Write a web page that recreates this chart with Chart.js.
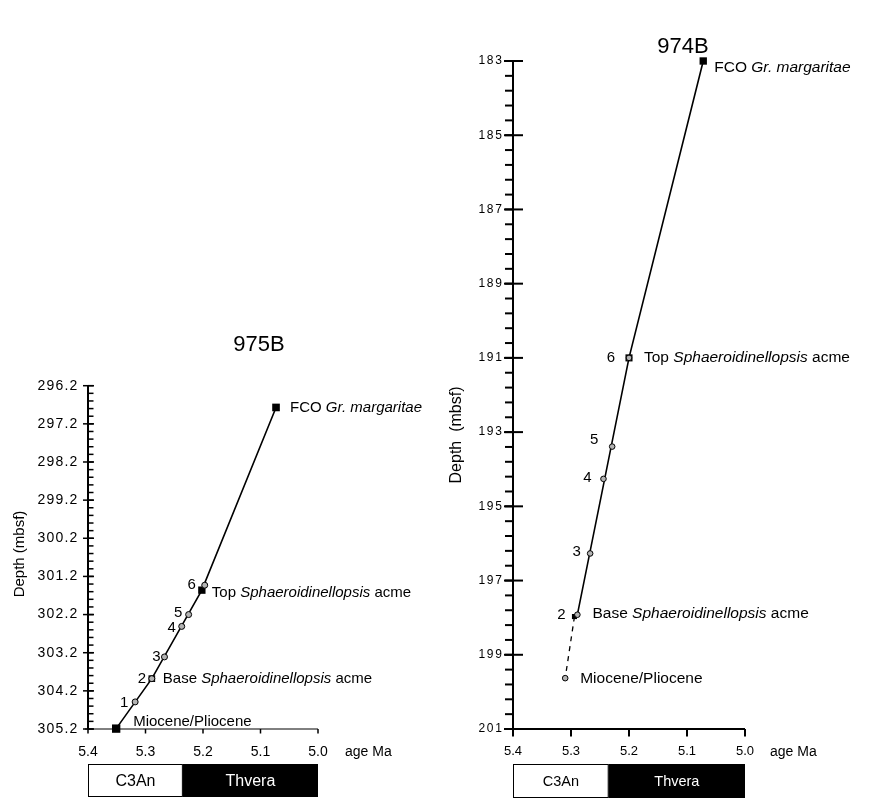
<!DOCTYPE html>
<html lang="en">
<head>
  <meta charset="UTF-8" />
  <title>975B / 974B age-depth plots</title>
  <script src="https://cdn.jsdelivr.net/npm/chart.js"></script>
  <style>
    body { margin: 0; background: #fff; }
    .wrap { position: relative; width: 873px; height: 799px; }
    .wrap canvas { position: absolute; left: 0; top: 0; }
  </style>
</head>
<body>
  <div class="wrap">
    <canvas id="chart975" width="873" height="799"></canvas>
    <canvas id="chart974" width="873" height="799"></canvas>
  </div>
  <script>
    // ---- shared axis data ----
    const ageTicks = [5.4, 5.3, 5.2, 5.1, 5.0];
    const ageTickLabels = ['5.4', '5.3', '5.2', '5.1', '5.0'];
    const chronNames = ['C3An', 'Thvera'];
    const chronBounds = [5.4, 5.235, 5.0];

    // ---- Site 975B ----
    const depthTicks975 = [296.2, 297.2, 298.2, 299.2, 300.2, 301.2, 302.2, 303.2, 304.2, 305.2];
    const depthTickLabels975 = ['296.2', '297.2', '298.2', '299.2', '300.2', '301.2', '302.2', '303.2', '304.2', '305.2'];
    const sampleLabels975 = ['1', '2', '3', '4', '5', '6'];
    const sampleAge975 = [5.318, 5.289, 5.267, 5.237, 5.225, 5.197];
    const sampleDepth975 = [304.49, 303.88, 303.31, 302.51, 302.20, 301.43];
    // '*' marks italic text
    const datumNames975 = ['Miocene/Pliocene', 'Base *Sphaeroidinellopsis* acme', 'Top *Sphaeroidinellopsis* acme', 'FCO *Gr. margaritae*'];
    const datumAge975 = [5.351, 5.289, 5.202, 5.073];
    const datumDepth975 = [305.19, 303.88, 301.56, 296.77];

    // ---- Site 974B ----
    const depthTicks974 = [183, 185, 187, 189, 191, 193, 195, 197, 199, 201];
    const depthTickLabels974 = ['183', '185', '187', '189', '191', '193', '195', '197', '199', '201'];
    const sampleLabels974 = ['2', '3', '4', '5', '6'];
    const sampleAge974 = [5.289, 5.267, 5.244, 5.229, 5.200];
    const sampleDepth974 = [197.92, 196.27, 194.26, 193.39, 191.0];
    const datumNames974 = ['Miocene/Pliocene', 'Base *Sphaeroidinellopsis* acme', 'Top *Sphaeroidinellopsis* acme', 'FCO *Gr. margaritae*'];
    const datumAge974 = [5.310, 5.294, 5.200, 5.072];
    const datumDepth974 = [199.63, 197.97, 191.0, 183.0];

    const FONT = '"Liberation Sans", Arial, Helvetica, sans-serif';
    const GREY = '#b3b3b3';

    const sites = [
      {
        canvas: 'chart975', title: '975B', depthLabel: 'Depth (mbsf)',
        depthTicks: depthTicks975, depthLabels: depthTickLabels975, minorStep: 0.2,
        sLabels: sampleLabels975, sAge: sampleAge975, sDepth: sampleDepth975,
        dNames: datumNames975, dAge: datumAge975, dDepth: datumDepth975,
        dMarker: ['rect', 'rect', 'rect', 'rect'],
        solid: [['d', 0], ['d', 1], ['d', 2], ['d', 3]],
        dashed: null,
        look: {
          area: { left: 88, right: 318, top: 385.7, bottom: 729 },
          yAxisW: 2, tickW: 1.5, major: [-5, 6], minor: [0, 5.5],
          xAxisW: 1, xAxisExt: -3, xTickLen: 4.5,
          yFont: 14, yPad: 10.7, ySpacing: 1.2,
          xFont: 14, xPad: 14.3,
          sRadius: 3, dRadius: [5.9, 4.7, 5.2, 5.4],
          noteFont: 15, numFont: 15,
          numOff: [[-11, 1], [-10, 0], [-8, 0], [-10, 1], [-10.5, -1.5], [-13, 0]],
          noteOff: [[17, -7], [11, 0], [10, 3], [14, 0]],
          titleAt: [259, 345], depthAt: [20, 554], depthFont: 15,
          ageAt: [345, 752], ageFont: 14,
          barTop: 764, barH: 33, chronFont: 16
        }
      },
      {
        canvas: 'chart974', title: '974B', depthLabel: 'Depth  (mbsf)',
        depthTicks: depthTicks974, depthLabels: depthTickLabels974, minorStep: 0.4,
        sLabels: sampleLabels974, sAge: sampleAge974, sDepth: sampleDepth974,
        dNames: datumNames974, dAge: datumAge974, dDepth: datumDepth974,
        dMarker: ['circle', 'rect', 'rect', 'rect'],
        solid: [['s', 0], ['d', 2], ['d', 3]],
        dashed: [['d', 1], ['d', 0]],
        look: {
          area: { left: 513, right: 745, top: 61, bottom: 729 },
          yAxisW: 2, tickW: 2, major: [-9, 10], minor: [-8, 0],
          xAxisW: 2, xAxisExt: 0, xTickLen: 7.5,
          yFont: 12, yPad: 11, ySpacing: 1.8,
          xFont: 13, xPad: 14.9,
          sRadius: 2.8, dRadius: [2.8, 3.6, 5, 5.2],
          noteFont: 15.5, numFont: 15,
          numOff: [[-16, 0], [-13.5, -1.5], [-16, -1], [-18, -7], [-18, 0]],
          noteOff: [[15, 1], [18, -3], [15, 0], [11, 7]],
          titleAt: [683, 47], depthAt: [457, 435], depthFont: 16,
          ageAt: [770, 752], ageFont: 14,
          barTop: 764, barH: 34, chronFont: 14.5
        }
      }
    ];

    function seg(ctx, x1, y1, x2, y2, w) {
      ctx.lineWidth = w;
      ctx.beginPath();
      ctx.moveTo(x1, y1);
      ctx.lineTo(x2, y2);
      ctx.stroke();
    }

    // draws text with '*' toggling italic, starting at x
    function richText(ctx, str, x, y, size) {
      let cx = x;
      str.split('*').forEach((part, i) => {
        if (!part) return;
        ctx.font = (i % 2 ? 'italic ' : '') + size + 'px ' + FONT;
        ctx.fillText(part, cx, y);
        cx += ctx.measureText(part).width;
      });
    }

    function decor(site) {
      const L = site.look;
      return {
        id: 'decor',
        afterDraw(chart) {
          const { ctx } = chart;
          const x = chart.scales.x, y = chart.scales.y;
          const last = site.depthTicks.length - 1;
          const x0 = x.getPixelForValue(ageTicks[0]);
          const x1 = x.getPixelForValue(ageTicks[ageTicks.length - 1]);
          const yTop = y.getPixelForValue(site.depthTicks[0]);
          const yBot = y.getPixelForValue(site.depthTicks[last]);

          ctx.save();
          ctx.strokeStyle = '#000';
          ctx.fillStyle = '#000';

          // depth axis with minor and major ticks
          seg(ctx, x0, yTop, x0, yBot, L.yAxisW);
          const nMinor = Math.round((site.depthTicks[last] - site.depthTicks[0]) / site.minorStep);
          for (let i = 0; i <= nMinor; i++) {
            const py = y.getPixelForValue(site.depthTicks[0] + i * site.minorStep);
            seg(ctx, x0 + L.minor[0], py, x0 + L.minor[1], py, L.tickW);
          }
          site.depthTicks.forEach(v => {
            const py = y.getPixelForValue(v);
            seg(ctx, x0 + L.major[0], py, x0 + L.major[1], py, L.tickW);
          });

          // age axis
          seg(ctx, x0 + L.xAxisExt, yBot, x1, yBot, L.xAxisW);
          ageTicks.forEach(v => {
            const px = x.getPixelForValue(v);
            seg(ctx, px, yBot, px, yBot + L.xTickLen, L.tickW);
          });

          // letter-spaced depth labels, placed on the y scale's tick pixels
          ctx.font = L.yFont + 'px ' + FONT;
          ctx.letterSpacing = L.ySpacing + 'px';
          ctx.textAlign = 'right';
          ctx.textBaseline = 'middle';
          y.ticks.forEach((t, i) => {
            ctx.fillText(site.depthLabels[i], x0 - L.yPad + L.ySpacing, y.getPixelForValue(t.value));
          });
          ctx.letterSpacing = '0px';

          // sample numbers
          ctx.textAlign = 'center';
          ctx.font = L.numFont + 'px ' + FONT;
          site.sLabels.forEach((t, i) => {
            const px = x.getPixelForValue(site.sAge[i]);
            const py = y.getPixelForValue(site.sDepth[i]);
            ctx.fillText(t, px + L.numOff[i][0], py + L.numOff[i][1]);
          });

          // datum names
          ctx.textAlign = 'left';
          site.dNames.forEach((t, i) => {
            const px = x.getPixelForValue(site.dAge[i]);
            const py = y.getPixelForValue(site.dDepth[i]);
            richText(ctx, t, px + L.noteOff[i][0], py + L.noteOff[i][1], L.noteFont);
          });

          // title
          ctx.textAlign = 'center';
          ctx.font = '22px ' + FONT;
          ctx.fillText(site.title, L.titleAt[0], L.titleAt[1]);

          // age unit
          ctx.textAlign = 'left';
          ctx.font = L.ageFont + 'px ' + FONT;
          ctx.fillText('age Ma', L.ageAt[0], L.ageAt[1]);

          // depth axis title
          ctx.save();
          ctx.translate(L.depthAt[0], L.depthAt[1]);
          ctx.rotate(-Math.PI / 2);
          ctx.textAlign = 'center';
          ctx.font = L.depthFont + 'px ' + FONT;
          ctx.fillText(site.depthLabel, 0, 0);
          ctx.restore();

          // polarity chrons
          const chronFill = ['#fff', '#000'];
          const chronText = ['#000', '#fff'];
          ctx.font = L.chronFont + 'px ' + FONT;
          ctx.textAlign = 'center';
          for (let i = 0; i < chronNames.length; i++) {
            const a = x.getPixelForValue(chronBounds[i]);
            const b = x.getPixelForValue(chronBounds[i + 1]);
            ctx.fillStyle = chronFill[i];
            ctx.fillRect(a, L.barTop, b - a, L.barH);
            ctx.lineWidth = 1;
            ctx.strokeRect(a + 0.5, L.barTop + 0.5, b - a - 1, L.barH - 1);
            ctx.fillStyle = chronText[i];
            ctx.fillText(chronNames[i], (a + b) / 2, L.barTop + L.barH / 2 + 1);
          }
          ctx.restore();
        }
      };
    }

    function pick(site, ref) {
      return ref[0] === 's'
        ? { x: site.sAge[ref[1]], y: site.sDepth[ref[1]] }
        : { x: site.dAge[ref[1]], y: site.dDepth[ref[1]] };
    }

    sites.forEach(site => {
      const L = site.look;
      const datasets = [
        {
          label: 'samples',
          data: site.sAge.map((a, i) => ({ x: a, y: site.sDepth[i] })),
          pointStyle: 'circle',
          pointRadius: L.sRadius,
          pointBackgroundColor: GREY,
          pointBorderColor: '#000',
          pointBorderWidth: 1,
          showLine: false,
          clip: false
        },
        {
          label: 'datums',
          data: site.dAge.map((a, i) => ({ x: a, y: site.dDepth[i] })),
          pointStyle: site.dMarker,
          pointRadius: L.dRadius,
          pointBackgroundColor: site.dMarker.map(m => m === 'rect' ? '#000' : GREY),
          pointBorderColor: '#000',
          pointBorderWidth: site.dMarker.map(m => m === 'rect' ? 0 : 1),
          showLine: false,
          clip: false
        },
        {
          label: 'age model',
          data: site.solid.map(r => pick(site, r)),
          showLine: true,
          borderColor: '#000',
          borderWidth: 1.6,
          pointRadius: 0,
          clip: false
        }
      ];
      if (site.dashed) {
        datasets.push({
          label: 'extrapolation',
          data: site.dashed.map(r => pick(site, r)),
          showLine: true,
          borderColor: '#000',
          borderWidth: 1.3,
          borderDash: [5, 5],
          pointRadius: 0,
          clip: false
        });
      }

      new Chart(document.getElementById(site.canvas), {
        type: 'scatter',
        data: { datasets },
        options: {
          responsive: false,
          animation: false,
          devicePixelRatio: 1,
          layout: {
            padding: {
              left: L.area.left - 60,
              right: 873 - L.area.right,
              top: L.area.top,
              bottom: 799 - L.area.bottom - 30
            }
          },
          plugins: { legend: { display: false }, tooltip: { enabled: false } },
          scales: {
            x: {
              type: 'linear',
              min: ageTicks[ageTicks.length - 1],
              max: ageTicks[0],
              reverse: true,
              afterBuildTicks: ax => { ax.ticks = ageTicks.map(v => ({ value: v })); },
              afterFit: s => { s.height = 30; },
              grid: { display: false, drawTicks: false },
              border: { display: false },
              ticks: {
                callback: (v, i) => ageTickLabels[i],
                autoSkip: false,
                maxRotation: 0,
                padding: L.xPad,
                color: '#000',
                font: { family: FONT, size: L.xFont }
              }
            },
            y: {
              type: 'linear',
              min: site.depthTicks[0],
              max: site.depthTicks[site.depthTicks.length - 1],
              reverse: true,
              afterBuildTicks: ax => { ax.ticks = site.depthTicks.map(v => ({ value: v })); },
              afterFit: s => { s.width = 60; },
              grid: { display: false, drawTicks: false },
              border: { display: false },
              ticks: { display: false }
            }
          }
        },
        plugins: [decor(site)]
      });
    });
  </script>
</body>
</html>
